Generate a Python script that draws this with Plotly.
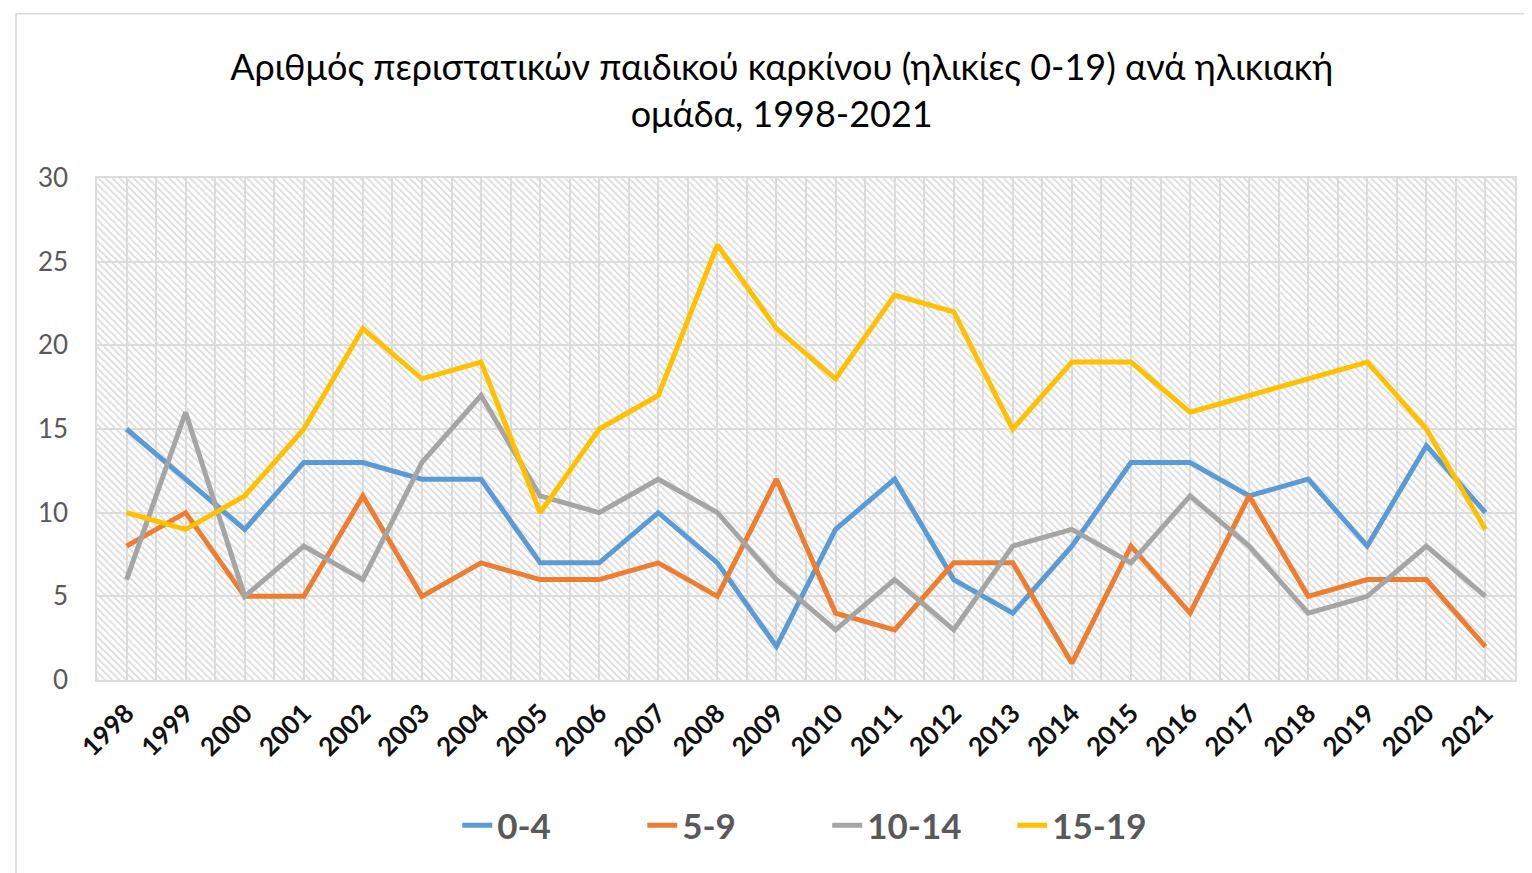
import base64
import plotly.graph_objects as go

years = list(range(1998, 2022))
year_labels = [str(y) for y in years]

age_0_4 = [15, 12, 9, 13, 13, 12, 12, 7, 7, 10, 7, 2, 9, 12, 6, 4, 8, 13, 13, 11, 12, 8, 14, 10]
age_5_9 = [8, 10, 5, 5, 11, 5, 7, 6, 6, 7, 5, 12, 4, 3, 7, 7, 1, 8, 4, 11, 5, 6, 6, 2]
age_10_14 = [6, 16, 5, 8, 6, 13, 17, 11, 10, 12, 10, 6, 3, 6, 3, 8, 9, 7, 11, 8, 4, 5, 8, 5]
age_15_19 = [10, 9, 11, 15, 21, 18, 19, 10, 15, 17, 26, 21, 18, 23, 22, 15, 19, 19, 16, 17, 18, 19, 15, 9]

series_names = ["0-4", "5-9", "10-14", "15-19"]
series_values = [age_0_4, age_5_9, age_10_14, age_15_19]
series_colors = ["#5B9BD5", "#ED7D31", "#A5A5A5", "#FFC000"]

title_text = "Αριθμός περιστατικών παιδικού καρκίνου (ηλικίες 0-19) ανά ηλικιακή<br>ομάδα, 1998-2021"

FONT = "Lato"

fig = go.Figure()
for name, vals, col in zip(series_names, series_values, series_colors):
    fig.add_trace(go.Scatter(
        x=years, y=vals, name=name, mode="lines",
        line=dict(color=col, width=5),
    ))

# hatched plot-area background (Excel pattern fill)
svg = (
    "<svg xmlns='http://www.w3.org/2000/svg' width='1418' height='502'>"
    "<defs><pattern id='p' width='5' height='10' patternUnits='userSpaceOnUse' "
    "patternTransform='rotate(-45)'>"
    "<rect x='0' y='0' width='1.6' height='10' fill='#d9d9d9'/></pattern></defs>"
    "<rect width='100%' height='100%' fill='#ffffff'/>"
    "<rect width='100%' height='100%' fill='url(#p)'/></svg>"
)
svg_uri = "data:image/svg+xml;base64," + base64.b64encode(svg.encode()).decode()
fig.add_layout_image(dict(
    source=svg_uri, xref="paper", yref="paper", x=0, y=1, sizex=1, sizey=1,
    xanchor="left", yanchor="top", sizing="stretch", layer="below",
))

# outer chart border
fig.add_shape(type="rect", xref="paper", yref="paper",
              x0=-0.0571, x1=1.05, y0=-0.45, y1=1.327,
              line=dict(color="#d9d9d9", width=1.5), fillcolor="rgba(0,0,0,0)", layer="below")

grid_col = "#dcdcdc"
fig.update_layout(
    width=1532, height=873,
    margin=dict(l=89, r=25, t=170, b=201),
    paper_bgcolor="white", plot_bgcolor="rgba(0,0,0,0)",
    font=dict(family=FONT, color="#595959"),
    title=dict(text=title_text, x=0.505, xref="container", xanchor="center",
               y=0.917, yref="container", yanchor="top",
               font=dict(family=FONT, size=36, color="#000000")),
    showlegend=True,
    legend=dict(orientation="h", x=0.515, xanchor="center", y=-0.29, yanchor="middle",
                font=dict(family=FONT, size=35, color="#595959", weight="bold"),
                entrywidth=140, bgcolor="rgba(0,0,0,0)"),
    xaxis=dict(
        range=[1997.5, 2021.5], tickmode="array", tickvals=years, ticktext=year_labels,
        tickangle=-45, tickfont=dict(family=FONT, size=26, color="#111111", weight="bold"),
        showgrid=True, gridcolor=grid_col, gridwidth=1.5,
        minor=dict(tick0=1997.5, dtick=1, showgrid=True, gridcolor=grid_col, gridwidth=1.5),
        showline=True, linecolor=grid_col, linewidth=1.5, mirror=True,
        zeroline=False, ticks="", ticklabelstandoff=6,
    ),
    yaxis=dict(
        range=[0, 30], dtick=5, tick0=0,
        tickfont=dict(family=FONT, size=26, color="#595959"),
        showgrid=True, gridcolor=grid_col, gridwidth=1.5,
        showline=True, linecolor=grid_col, linewidth=1.5, mirror=True,
        zeroline=False, ticks="", ticklabelstandoff=22,
    ),
)

fig.write_html("out.html")
